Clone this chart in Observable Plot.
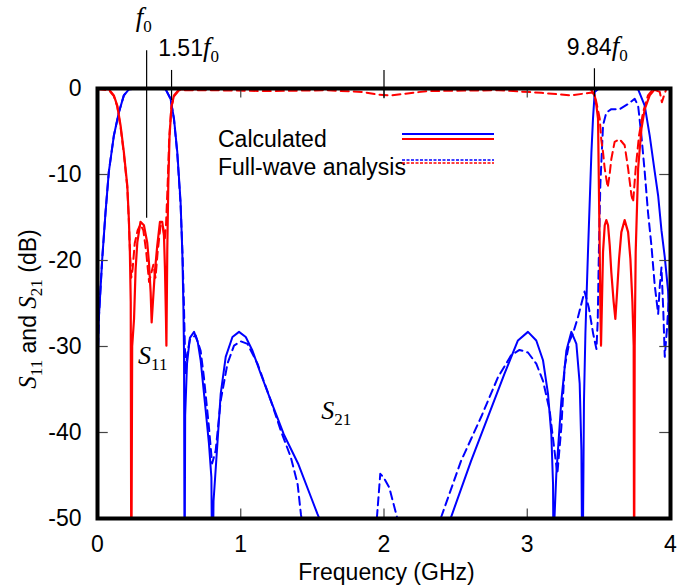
<!DOCTYPE html>
<html><head><meta charset="utf-8">
<script src="https://cdn.jsdelivr.net/npm/d3@7"></script>
<script src="https://cdn.jsdelivr.net/npm/@observablehq/plot@0.6"></script>
<style>body{margin:0;background:#fff}#chart{width:694px;height:587px}</style>
</head><body><div id="chart"></div>
<script>
// ---- data (frequency GHz, dB) ----
const s21Calc = [[0,-33],[0.009,-26.8],[0.033,-19.8],[0.056,-14.4],[0.079,-9.7],[0.114,-5.5],[0.149,-2.8],[0.184,-0.8],[0.219,-0.1],[0.3,0],[0.4,0],[0.476,-0.1],[0.51,-1.2],[0.534,-3.5],[0.557,-7.4],[0.58,-13.2],[0.592,-19],[0.599,-24.8],[0.604,-30.7],[0.608,-60],[0.612,-38],[0.625,-32],[0.645,-29],[0.674,-28.3],[0.70,-29.5],[0.72,-31.6],[0.755,-37.4],[0.778,-41.3],[0.795,-45.2],[0.802,-60],[0.81,-48],[0.837,-41.3],[0.86,-35.5],[0.895,-31.2],[0.942,-28.9],[0.988,-28.3],[1.035,-28.9],[1.082,-30.5],[1.14,-33.2],[1.21,-36.3],[1.30,-40.2],[1.40,-43.6],[1.49,-47.5],[1.536,-49.5],[1.6,-52],[2.42,-52],[2.469,-49.8],[2.608,-43.3],[2.725,-38.2],[2.84,-33.2],[2.935,-29.3],[3.005,-28.3],[3.063,-29.3],[3.11,-31.6],[3.145,-35.5],[3.168,-40.2],[3.18,-46],[3.185,-60],[3.19,-50],[3.203,-44.8],[3.238,-36.3],[3.273,-30.5],[3.308,-28.3],[3.343,-29.7],[3.366,-34.3],[3.378,-42.1],[3.385,-60],[3.392,-45],[3.396,-36.3],[3.406,-28.5],[3.413,-24.7],[3.424,-19],[3.436,-13.2],[3.448,-7.4],[3.459,-3.5],[3.471,-0.4],[3.5,0],[3.7,0],[3.774,-0.1],[3.82,-2],[3.855,-5.5],[3.89,-9.7],[3.914,-12.5],[3.937,-16.5],[3.96,-19.6],[3.983,-23.5],[3.995,-29.3],[4.0,-35]];
const s21Full = [[0,-33],[0.009,-26.8],[0.033,-19.8],[0.056,-14.4],[0.079,-9.7],[0.114,-5.5],[0.149,-2.8],[0.184,-0.8],[0.219,-0.1],[0.3,0],[0.4,0],[0.476,-0.1],[0.51,-1.2],[0.534,-3.6],[0.557,-7.6],[0.58,-13.5],[0.594,-19.5],[0.603,-25],[0.61,-30],[0.615,-33.2],[0.625,-31],[0.645,-29.2],[0.685,-28.7],[0.72,-30.5],[0.743,-33.6],[0.778,-39.4],[0.80,-43.6],[0.825,-42.1],[0.86,-36.3],[0.907,-32],[0.953,-29.9],[1.0,-29.4],[1.047,-29.7],[1.117,-32],[1.21,-36.3],[1.28,-39.8],[1.35,-42.9],[1.397,-46],[1.42,-49.5],[1.45,-53],[1.93,-53],[1.951,-49.8],[1.974,-44.8],[2.0,-45.3],[2.037,-46.4],[2.09,-49.8],[2.12,-53],[2.37,-53],[2.40,-49.8],[2.538,-43.3],[2.678,-38.2],[2.795,-33.6],[2.888,-31],[2.946,-30.4],[3.005,-30.7],[3.063,-32],[3.11,-34],[3.156,-37.4],[3.19,-42.1],[3.21,-44.8],[3.238,-39.4],[3.261,-32.4],[3.296,-29.3],[3.319,-28.5],[3.354,-26.6],[3.40,-23.6],[3.43,-25.5],[3.46,-28.5],[3.483,-30.3],[3.492,-27],[3.5,-19],[3.51,-11.3],[3.529,-4.3],[3.552,-2.8],[3.587,-2.4],[3.645,-2.4],[3.704,-1.8],[3.75,-1.2],[3.774,-2],[3.797,-5.5],[3.82,-9.7],[3.843,-14.4],[3.867,-18.3],[3.89,-22.9],[3.914,-26.2],[3.925,-23],[3.937,-20.8],[3.95,-26],[3.96,-31.2],[3.975,-28],[3.99,-24],[4.0,-30]];
const s11Calc = [[0,0],[0.08,-0.1],[0.114,-0.8],[0.138,-2],[0.161,-4.3],[0.184,-7.4],[0.208,-11.3],[0.219,-15.2],[0.226,-19],[0.232,-24.8],[0.236,-60],[0.242,-30],[0.255,-26.8],[0.266,-21],[0.278,-17.9],[0.30,-15.5],[0.324,-15.9],[0.347,-17.9],[0.359,-20.2],[0.371,-23.7],[0.378,-27.2],[0.387,-24.8],[0.40,-21.4],[0.417,-18.3],[0.436,-15.5],[0.452,-15.5],[0.464,-17.1],[0.471,-21],[0.478,-26.8],[0.481,-29.9],[0.487,-19],[0.494,-11.3],[0.503,-5.5],[0.517,-2],[0.534,-0.8],[0.569,-0.1],[1.0,0],[3.44,0],[3.471,-0.8],[3.483,-2],[3.494,-3.5],[3.5,-11.3],[3.506,-19],[3.51,-24.8],[3.515,-29.9],[3.529,-19],[3.541,-15.9],[3.552,-15.3],[3.564,-15.9],[3.576,-18.3],[3.587,-21.4],[3.603,-24.8],[3.615,-26.8],[3.627,-23.7],[3.641,-19.8],[3.657,-16.7],[3.68,-15.3],[3.704,-16.7],[3.72,-19.8],[3.734,-24.8],[3.743,-29.9],[3.746,-60],[3.75,-30],[3.757,-19],[3.774,-9.3],[3.797,-4.7],[3.82,-2.4],[3.855,-0.8],[3.89,-0.1],[4.0,0]];
const s11Full = [[0,-0.1],[0.08,-0.2],[0.114,-0.9],[0.138,-2.1],[0.161,-4.5],[0.184,-7.6],[0.208,-11.5],[0.219,-15.5],[0.228,-19.5],[0.236,-22],[0.245,-21],[0.26,-18],[0.28,-16.5],[0.30,-15.8],[0.32,-16.5],[0.34,-19],[0.36,-22.5],[0.375,-21.5],[0.39,-20.5],[0.405,-22],[0.42,-19],[0.44,-16],[0.455,-15.8],[0.47,-17.5],[0.478,-16],[0.49,-11],[0.50,-6],[0.515,-2.2],[0.535,-0.9],[0.57,-0.2],[0.8,-0.2],[1.2,-0.3],[1.6,-0.2],[1.85,-0.4],[1.95,-0.7],[2.05,-0.8],[2.15,-0.6],[2.3,-0.3],[2.8,-0.2],[3.1,-0.5],[3.3,-0.8],[3.44,-0.5],[3.46,-0.5],[3.48,-1.4],[3.506,-3.5],[3.517,-6],[3.529,-7.4],[3.54,-9.2],[3.552,-10.5],[3.562,-11.5],[3.575,-10],[3.587,-8.2],[3.61,-6.2],[3.645,-5.9],[3.68,-6.6],[3.704,-9.3],[3.727,-12.4],[3.739,-13.2],[3.757,-9.3],[3.78,-5.5],[3.808,-2.8],[3.843,-0.8],[3.878,-0.1],[3.925,-0.4],[3.94,-1.6],[3.955,-0.8],[3.97,-0.1],[4.0,0]];

const xTickLabels = [0, 1, 2, 3, 4];
const xInnerTicks = [1, 2, 3];
const yTickLabels = [0, -10, -20, -30, -40, -50];
const yInnerTicks = [-10, -20, -30, -40];
// vertical marker lines: frequency, top dB, bottom dB
const markerF = [0.343, 0.517, 2.0, 3.469];
const markerTop = [4.4, 2.1, 2.1, 2.3];
const markerBottom = [-15.1, -1.4, -1.2, -1.0];
// annotations (text parts, left edge frequency, baseline dB)
const annotations = [
  {parts: [["f","it"],["0","sub"]], f: 0.27, db: 7.2},
  {parts: [["1.51","sans"],["f","it"],["0","sub"]], f: 0.427, db: 3.7},
  {parts: [["9.84","sans"],["f","it"],["0","sub"]], f: 3.28, db: 3.8},
  {parts: [["S","it"],["11","sub"]], f: 0.287, db: -32.1},
  {parts: [["S","it"],["21","sub"]], f: 1.566, db: -38.5}
];
const legendLabels = ["Calculated", "Full-wave analysis"];

const BLUE = "#0000ff", RED = "#ff0000";
const SANS = "'Liberation Sans', Arial, Helvetica, sans-serif";
const SERIF = "'Liberation Serif', 'Times New Roman', serif";

const markers = markerF.map((f, i) => ({f, top: markerTop[i], bottom: markerBottom[i]}));
const X = d => d[0], Y = d => d[1];

const plot = Plot.plot({
  width: 694, height: 587,
  marginLeft: 97, marginRight: 24, marginTop: 88, marginBottom: 69,
  x: {domain: [0, 4]},
  y: {domain: [-50, 0]},
  style: {fontFamily: SANS, fontSize: "23px", background: "#fff", color: "#000", overflow: "visible"},
  marks: [
    Plot.line(s21Full, {x: X, y: Y, stroke: BLUE, strokeWidth: 2, strokeDasharray: "8,5", clip: true}),
    Plot.line(s11Full, {x: X, y: Y, stroke: RED, strokeWidth: 2, strokeDasharray: "8,5", clip: true}),
    Plot.line(s21Calc, {x: X, y: Y, stroke: BLUE, strokeWidth: 2, clip: true}),
    Plot.line(s11Calc, {x: X, y: Y, stroke: RED, strokeWidth: 2.2, clip: true}),
    Plot.ruleX(xInnerTicks, {y1: -50, y2: -48.9, stroke: "#444", strokeWidth: 1.2}),
    Plot.ruleX(xInnerTicks, {y1: 0, y2: -1.1, stroke: "#444", strokeWidth: 1.2}),
    Plot.ruleY(yInnerTicks, {x1: 0, x2: 0.075, stroke: "#444", strokeWidth: 1.2}),
    Plot.ruleY(yInnerTicks, {x1: 4, x2: 3.925, stroke: "#444", strokeWidth: 1.2}),
    Plot.ruleX(markers, {x: "f", y1: "top", y2: "bottom", stroke: "#000", strokeWidth: 1.2}),
    Plot.axisX({ticks: xTickLabels, tickSize: 0, tickPadding: 17, fontSize: 23, label: null, tickFormat: d => String(d)}),
    Plot.axisY({ticks: yTickLabels, tickSize: 0, tickPadding: 16, fontSize: 23, label: null, tickFormat: d => String(d)}),
    Plot.frame({stroke: "#000", strokeWidth: 4})
  ]
});
document.getElementById("chart").appendChild(plot);

const svg = d3.select(plot);
const sx = plot.scale("x"), sy = plot.scale("y");

function richText(g, parts, big) {
  parts.forEach(([t, kind], i) => {
    const sp = g.append("tspan").text(t);
    if (kind === "it") sp.attr("font-family", SERIF).attr("font-style", "italic").attr("font-size", big);
    else if (kind === "sub") sp.attr("font-family", SERIF).attr("font-size", 17).attr("dy", 6);
    else sp.attr("font-family", SANS).attr("font-size", 23);
    if (i > 0 && parts[i - 1][1] === "sub") sp.attr("dy", kind === "sub" ? 0 : -6);
  });
}

annotations.forEach(a => {
  const g = svg.append("text")
    .attr("x", sx.apply(a.f)).attr("y", sy.apply(a.db))
    .attr("text-anchor", "start").attr("fill", "#000");
  richText(g, a.parts, a.parts[0][0] === "S" ? 26 : 27);
});

// y axis title
const yt = svg.append("text")
  .attr("transform", `translate(36,${(sy.apply(0) + sy.apply(-50)) / 2 + 6}) rotate(-90)`)
  .attr("text-anchor", "middle").attr("fill", "#000").attr("font-size", 23);
richText(yt, [["S","it"],["11","sub"],[" and ","sans"],["S","it"],["21","sub"],[" (dB)","sans"]], 25);

// x axis title
svg.append("text")
  .attr("x", (sx.apply(0) + sx.apply(4)) / 2 + 3).attr("y", 580)
  .attr("text-anchor", "middle").attr("font-family", SANS).attr("font-size", 23).attr("fill", "#000")
  .text("Frequency (GHz)");

// legend
const lg = svg.append("g").attr("text-anchor", "start");
lg.append("text").attr("x", 218).attr("y", 147).attr("font-family", SANS).attr("font-size", 23).text(legendLabels[0]);
lg.append("text").attr("x", 218).attr("y", 175).attr("font-family", SANS).attr("font-size", 23).text(legendLabels[1]);
[[134, BLUE, null], [139, RED, null], [160, BLUE, "3,1.5"], [163, RED, "3,1.5"]].forEach(([y, c, dash]) => {
  const l = lg.append("line").attr("x1", 402).attr("x2", 494).attr("y1", y).attr("y2", y)
    .attr("stroke", c).attr("stroke-width", dash ? 1.6 : 2.2);
  if (dash) l.attr("stroke-dasharray", dash);
});
</script></body></html>
